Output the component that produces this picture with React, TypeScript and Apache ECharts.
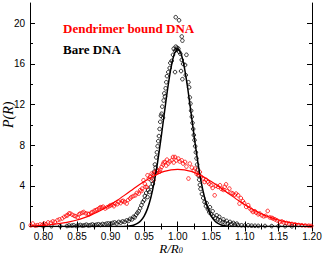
import React, { useEffect, useRef } from 'react';
import * as echarts from 'echarts';

const xMajorTicks = [0.8, 0.85, 0.9, 0.95, 1.0, 1.05, 1.1, 1.15, 1.2];
const xMinorTicks = [0.825, 0.875, 0.925, 0.975, 1.025, 1.075, 1.125, 1.175];
const yMajorTicks = [0, 4, 8, 12, 16, 20];
const yMinorTicks = [2, 6, 10, 14, 18];

const seriesNames = ['Dendrimer bound DNA', 'Bare DNA'];

const bareDnaPoints: [number, number][] = [
  [0.8, 0.02], [0.812, 0.03], [0.825, 0.04], [0.835, 0.05], [0.838, 0.1], [0.842, 0.08], [0.845, 0.12],
  [0.849, 0.05], [0.852, 0.1], [0.855, 0.15], [0.858, 0.08], [0.861, 0.12], [0.864, 0.18], [0.867, 0.1],
  [0.87, 0.14], [0.873, 0.2], [0.876, 0.12], [0.879, 0.18], [0.882, 0.22], [0.885, 0.15], [0.888, 0.25],
  [0.891, 0.2], [0.894, 0.28], [0.897, 0.3], [0.9, 0.25], [0.903, 0.35], [0.906, 0.4], [0.909, 0.3],
  [0.912, 0.45], [0.915, 0.38], [0.918, 0.5], [0.921, 0.45], [0.924, 0.6], [0.927, 0.55], [0.929, 0.75],
  [0.932, 0.7], [0.934, 0.95], [0.936, 0.9], [0.938, 1.15], [0.94, 1.35], [0.942, 1.5], [0.944, 1.8],
  [0.946, 2.1], [0.948, 2.4], [0.95, 2.6], [0.951, 3.0], [0.953, 3.3], [0.955, 2.9], [0.956, 3.6],
  [0.958, 3.4], [0.96, 3.9], [0.961, 4.5], [0.963, 4.2], [0.964, 5.0], [0.965, 5.4], [0.966, 6.1],
  [0.967, 5.8], [0.968, 6.8], [0.969, 7.3], [0.97, 7.9], [0.971, 8.4], [0.972, 8.9], [0.973, 9.6],
  [0.974, 10.3], [0.975, 10.9], [0.976, 11.1], [0.977, 11.8], [0.978, 10.7], [0.979, 12.4], [0.98, 13.1],
  [0.981, 12.8], [0.982, 13.6], [0.983, 14.2], [0.984, 14.8], [0.986, 15.2], [0.988, 15.6], [0.989, 16.1],
  [0.991, 16.3], [0.993, 16.9], [0.994, 17.5], [0.996, 17.3], [0.997, 17.7], [0.998, 17.4], [0.999, 17.6],
  [1.001, 17.5], [1.002, 17.2], [0.997, 20.6], [1.002, 20.3], [1.006, 18.7], [1.007, 18.3], [1.004, 17.0],
  [1.006, 16.4], [1.008, 16.0], [1.011, 15.9], [1.013, 16.9], [1.005, 15.3], [0.996, 15.2], [1.007, 14.5],
  [1.012, 14.9], [1.016, 14.2], [1.017, 13.7], [1.018, 12.7], [1.019, 12.1], [1.02, 11.4], [1.021, 10.8],
  [1.022, 10.2], [1.023, 9.6], [1.024, 9.0], [1.025, 8.5], [1.026, 7.9], [1.027, 7.3], [1.028, 6.7],
  [1.029, 6.1], [1.03, 5.6], [1.031, 5.0], [1.032, 4.6], [1.033, 4.1], [1.034, 3.7], [1.036, 3.2],
  [1.038, 2.8], [1.04, 2.4], [1.042, 2.0], [1.043, 2.3], [1.045, 1.7], [1.047, 1.4], [1.048, 1.9],
  [1.05, 1.2], [1.052, 1.5], [1.053, 1.0], [1.056, 0.85], [1.058, 1.1], [1.06, 0.7], [1.062, 0.95],
  [1.063, 0.6], [1.067, 0.45], [1.068, 0.7], [1.07, 0.4], [1.073, 0.55], [1.075, 0.3], [1.078, 0.45],
  [1.08, 0.25], [1.083, 0.35], [1.085, 0.2], [1.088, 0.28], [1.09, 0.15], [1.095, 0.12], [1.1, 0.1],
  [1.105, 0.12], [1.11, 0.08], [1.115, 0.07], [1.12, 0.06], [1.13, 0.05], [1.14, 0.04], [1.15, 0.03],
  [1.16, 0.03], [1.17, 0.02],
];

const dendrimerPoints: [number, number][] = [
  [0.781, 0.12], [0.784, 0.29], [0.788, 0.08], [0.791, 0.13], [0.795, 0.2], [0.798, 0.15], [0.801, 0.29],
  [0.804, 0.22], [0.807, 0.4], [0.811, 0.36], [0.814, 0.5], [0.817, 0.45], [0.821, 0.62], [0.824, 0.7],
  [0.828, 0.79], [0.831, 0.95], [0.834, 1.05], [0.836, 1.11], [0.838, 1.28], [0.84, 1.28], [0.843, 1.15],
  [0.846, 1.05], [0.848, 1.01], [0.851, 0.9], [0.853, 1.2], [0.855, 1.28], [0.858, 1.35], [0.86, 1.43],
  [0.863, 1.3], [0.866, 1.25], [0.868, 1.21], [0.871, 1.35], [0.873, 1.43], [0.876, 1.55], [0.878, 1.6],
  [0.88, 1.67], [0.883, 1.8], [0.885, 1.9], [0.887, 1.87], [0.889, 1.95], [0.892, 1.77], [0.895, 1.9],
  [0.898, 2.0], [0.9, 2.09], [0.903, 2.15], [0.905, 2.0], [0.907, 2.26], [0.91, 2.2], [0.912, 2.42],
  [0.915, 2.3], [0.917, 2.5], [0.919, 2.52], [0.921, 2.4], [0.924, 2.26], [0.926, 2.6], [0.929, 2.75],
  [0.931, 2.9], [0.934, 3.0], [0.937, 3.07], [0.939, 3.3], [0.942, 3.24], [0.944, 3.57], [0.946, 3.5],
  [0.947, 3.73], [0.949, 4.55], [0.951, 4.2], [0.952, 3.9], [0.954, 3.89], [0.955, 5.04], [0.957, 4.7],
  [0.959, 4.9], [0.961, 5.2], [0.963, 5.1], [0.964, 4.55], [0.966, 5.36], [0.968, 5.3], [0.969, 5.45],
  [0.971, 5.53], [0.973, 5.4], [0.974, 5.6], [0.976, 5.86], [0.978, 6.1], [0.979, 6.3], [0.981, 6.35],
  [0.983, 6.0], [0.984, 6.58], [0.986, 6.2], [0.988, 6.4], [0.991, 6.51], [0.993, 6.84], [0.994, 6.3],
  [0.996, 6.84], [0.998, 6.5], [1.001, 6.68], [1.003, 6.4], [1.006, 6.51], [1.008, 6.2], [1.011, 6.35],
  [1.013, 5.9], [1.016, 4.72], [1.018, 6.19], [1.021, 5.8], [1.024, 5.5], [1.026, 5.7], [1.028, 5.2],
  [1.031, 5.1], [1.033, 5.36], [1.035, 4.9], [1.038, 4.72], [1.04, 4.38], [1.042, 4.6], [1.045, 4.38],
  [1.047, 4.2], [1.05, 4.06], [1.052, 3.8], [1.055, 3.07], [1.057, 4.0], [1.06, 3.9], [1.063, 4.06],
  [1.065, 3.7], [1.068, 3.6], [1.07, 3.9], [1.072, 4.15], [1.074, 3.5], [1.077, 3.73], [1.08, 3.3],
  [1.082, 3.24], [1.085, 3.1], [1.087, 3.24], [1.09, 3.07], [1.092, 2.26], [1.094, 2.8], [1.097, 2.5],
  [1.099, 2.3], [1.102, 1.93], [1.105, 2.1], [1.107, 1.8], [1.11, 1.6], [1.112, 1.43], [1.115, 1.5],
  [1.117, 1.35], [1.12, 1.2], [1.122, 1.28], [1.125, 1.1], [1.128, 1.0], [1.131, 1.05], [1.134, 1.53],
  [1.137, 0.9], [1.14, 0.85], [1.142, 0.79], [1.145, 0.7], [1.148, 0.6], [1.152, 0.45], [1.155, 0.5],
  [1.158, 0.4], [1.162, 0.35], [1.166, 0.29], [1.17, 0.25], [1.175, 0.2], [1.18, 0.15], [1.185, 0.12],
  [1.19, 0.1], [1.195, 0.08], [1.199, 0.06],
];

const bareDnaFit: [number, number][] = [
  [0.78, 0], [0.9, 0], [0.92, 0.01], [0.93, 0.07], [0.935, 0.15], [0.94, 0.3], [0.945, 0.57],
  [0.95, 1.03], [0.955, 1.76], [0.96, 2.85], [0.965, 4.36], [0.97, 6.31], [0.975, 8.62], [0.98, 11.12],
  [0.985, 13.56], [0.99, 15.62], [0.995, 17.01], [1.0, 17.5], [1.005, 17.01], [1.01, 15.62],
  [1.015, 13.56], [1.02, 11.12], [1.025, 8.62], [1.03, 6.31], [1.035, 4.36], [1.04, 2.85], [1.045, 1.76],
  [1.05, 1.03], [1.055, 0.57], [1.06, 0.3], [1.065, 0.15], [1.07, 0.07], [1.08, 0.01], [1.1, 0], [1.2, 0],
];

const dendrimerFit: [number, number][] = [
  [0.78, 0.05], [0.79, 0.08], [0.8, 0.12], [0.81, 0.17], [0.82, 0.25], [0.83, 0.35], [0.84, 0.48],
  [0.85, 0.64], [0.86, 0.85], [0.87, 1.1], [0.88, 1.4], [0.89, 1.75], [0.9, 2.15], [0.91, 2.58],
  [0.92, 3.04], [0.93, 3.51], [0.94, 3.98], [0.95, 4.42], [0.96, 4.83], [0.97, 5.16], [0.98, 5.42],
  [0.99, 5.58], [1.0, 5.63], [1.01, 5.58], [1.02, 5.42], [1.03, 5.16], [1.04, 4.83], [1.05, 4.42],
  [1.06, 3.98], [1.07, 3.51], [1.08, 3.04], [1.09, 2.58], [1.1, 2.15], [1.11, 1.75], [1.12, 1.4],
  [1.13, 1.1], [1.14, 0.85], [1.15, 0.64], [1.16, 0.48], [1.17, 0.35], [1.18, 0.25], [1.19, 0.17],
  [1.2, 0.12],
];

const RED = '#ff0000';
const BLACK = '#000000';
const sans = 'Liberation Sans, Arial, sans-serif';
const serif = 'Liberation Serif, Times New Roman, serif';

export default function App() {
  const ref = useRef<HTMLDivElement>(null);
  useEffect(() => {
    if (!ref.current) return;
    const chart = echarts.init(ref.current, undefined, { renderer: 'svg' });
    const gridPos = { left: 30, right: 13, top: 3, bottom: 29.5 };
    const xBase = { type: 'value', min: 0.78, max: 1.2, splitLine: { show: false } };
    const yBase = { type: 'value', min: 0, max: 22, splitLine: { show: false } };
    const axisLine = { show: true, lineStyle: { color: BLACK, width: 1 } };
    const majorTick = (vals: number[]) => ({ show: true, inside: true, length: 5, customValues: vals, lineStyle: { color: BLACK, width: 1 } });
    const minorTick = (vals: number[]) => ({ show: true, inside: true, length: 3, customValues: vals, lineStyle: { color: BLACK, width: 1 } });
    const option: any = {
      animation: false,
      backgroundColor: '#fff',
      grid: [
        { ...gridPos, outerBoundsMode: 'none' },
        { ...gridPos, outerBoundsMode: 'none' },
      ],
      xAxis: [
        {
          ...xBase, gridIndex: 0, position: 'bottom', axisLine, axisTick: majorTick(xMajorTicks),
          axisLabel: { customValues: xMajorTicks, formatter: (v: number) => v.toFixed(2), fontSize: 10, color: BLACK, fontFamily: sans, margin: 5 },
          name: '{a|R/R}{b|0}', nameLocation: 'middle', nameGap: 15, nameMoveOverlap: false,
          nameTextStyle: {
            verticalAlign: 'top',
            rich: {
              a: { fontFamily: serif, fontStyle: 'italic', fontSize: 13, color: BLACK },
              b: { fontFamily: serif, fontStyle: 'italic', fontSize: 8, color: BLACK, padding: [4, 0, 0, 0] },
            },
          },
        },
        { ...xBase, gridIndex: 0, position: 'top', axisLine, axisTick: majorTick(xMajorTicks), axisLabel: { show: false } },
        { ...xBase, gridIndex: 1, position: 'bottom', axisLine: { show: false }, axisTick: minorTick(xMinorTicks), axisLabel: { show: false } },
        { ...xBase, gridIndex: 1, position: 'top', axisLine: { show: false }, axisTick: minorTick(xMinorTicks), axisLabel: { show: false } },
      ],
      yAxis: [
        {
          ...yBase, gridIndex: 0, position: 'left', axisLine, axisTick: majorTick(yMajorTicks),
          axisLabel: { customValues: yMajorTicks, fontSize: 10, color: BLACK, fontFamily: sans, margin: 5 },
          name: 'P(R)', nameLocation: 'middle', nameGap: 15, nameMoveOverlap: false,
          nameTextStyle: { fontFamily: serif, fontStyle: 'italic', fontSize: 14, color: BLACK },
        },
        { ...yBase, gridIndex: 0, position: 'right', axisLine, axisTick: majorTick(yMajorTicks), axisLabel: { show: false } },
        { ...yBase, gridIndex: 1, position: 'left', axisLine: { show: false }, axisTick: minorTick(yMinorTicks), axisLabel: { show: false } },
        { ...yBase, gridIndex: 1, position: 'right', axisLine: { show: false }, axisTick: minorTick(yMinorTicks), axisLabel: { show: false } },
      ],
      graphic: [
        { type: 'text', left: 63, top: 22, style: { text: seriesNames[0], fill: RED, font: `bold 13px ${serif}` } },
        { type: 'text', left: 63, top: 43, style: { text: seriesNames[1], fill: BLACK, font: `bold 13px ${serif}` } },
      ],
      series: [
        {
          name: seriesNames[1], type: 'scatter', xAxisIndex: 0, yAxisIndex: 0, data: bareDnaPoints,
          symbol: 'circle', symbolSize: 3.6,
          itemStyle: { color: 'rgba(0,0,0,0)', borderColor: BLACK, borderWidth: 1 },
        },
        {
          name: seriesNames[1] + ' fit', type: 'line', xAxisIndex: 0, yAxisIndex: 0, data: bareDnaFit,
          showSymbol: false, smooth: 0.2, lineStyle: { color: BLACK, width: 1.5 },
        },
        {
          name: seriesNames[0], type: 'scatter', xAxisIndex: 0, yAxisIndex: 0, data: dendrimerPoints,
          symbol: 'circle', symbolSize: 3.6,
          itemStyle: { color: 'rgba(0,0,0,0)', borderColor: RED, borderWidth: 1 },
        },
        {
          name: seriesNames[0] + ' fit', type: 'line', xAxisIndex: 0, yAxisIndex: 0, data: dendrimerFit,
          showSymbol: false, smooth: 0.2, lineStyle: { color: RED, width: 1.2 },
        },
      ],
    };
    chart.setOption(option);
    return () => chart.dispose();
  }, []);
  return <div ref={ref} style={{ position: 'fixed', left: 0, top: 0, width: 325, height: 256, background: '#fff' }} />;
}
